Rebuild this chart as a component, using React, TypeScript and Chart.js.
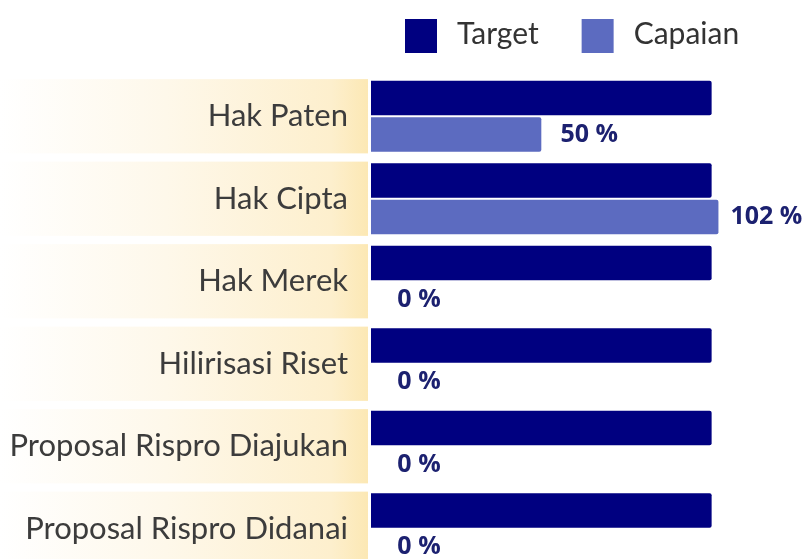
import React, { useEffect, useRef } from "react";
import { Chart, registerables } from "chart.js";

Chart.register(...registerables);

const categories = [
  "Hak Paten",
  "Hak Cipta",
  "Hak Merek",
  "Hilirisasi Riset",
  "Proposal Rispro Diajukan",
  "Proposal Rispro Didanai",
];
const seriesNames = ["Target", "Capaian"];
const targetValues = [100, 100, 100, 100, 100, 100];
const capaianValues = [50, 102, 0, 0, 0, 0];
const seriesColors = ["#000080", "#5C6BC0"];

const LABEL_FONT = "Lato, 'Open Sans', sans-serif";

const bandPlugin = {
  id: "bands",
  beforeDraw(chart: any) {
    const { ctx } = chart;
    const y = chart.scales.y;
    const n = chart.data.labels.length;
    const pitch = (chart.chartArea.bottom - chart.chartArea.top) / n;
    const right = chart.chartArea.left - 3;
    const grad = ctx.createLinearGradient(0, 0, right, 0);
    grad.addColorStop(0, "rgba(255,255,255,1)");
    grad.addColorStop(0.45, "#fef8ea");
    grad.addColorStop(0.9, "#fdefcd");
    grad.addColorStop(1, "#fce8b4");
    ctx.save();
    ctx.fillStyle = grad;
    for (let i = 0; i < n; i++) {
      const cy = y.getPixelForValue(i);
      const h = pitch * 0.9;
      ctx.fillRect(0, cy - h / 2, right, h);
    }
    ctx.restore();
  },
};

const valueLabelPlugin = {
  id: "valueLabels",
  afterDatasetsDraw(chart: any) {
    const { ctx } = chart;
    const meta = chart.getDatasetMeta(1);
    ctx.save();
    ctx.font = "bold 25px 'Open Sans', sans-serif";
    ctx.fillStyle = "#1c2170";
    ctx.textAlign = "center";
    ctx.textBaseline = "middle";
    meta.data.forEach((el: any, i: number) => {
      const v = chart.data.datasets[1].data[i];
      ctx.fillText(`${v} %`, el.x + 48, el.y);
    });
    ctx.restore();
  },
};

const legendPlugin = {
  id: "customLegend",
  afterDraw(chart: any) {
    const { ctx } = chart;
    ctx.save();
    ctx.font = `30px ${LABEL_FONT}`;
    ctx.textBaseline = "middle";
    ctx.textAlign = "left";
    let x = 405;
    const boxW = 32;
    const boxH = 34;
    const top = 19;
    chart.data.datasets.forEach((ds: any) => {
      ctx.fillStyle = ds.backgroundColor;
      ctx.fillRect(x, top, boxW, boxH);
      ctx.fillStyle = "#333333";
      const tx = x + boxW + 20;
      ctx.fillText(ds.label, tx, top + boxH / 2 - 2);
      x = tx + ctx.measureText(ds.label).width + 43;
    });
    ctx.restore();
  },
};

export default function App() {
  const ref = useRef<HTMLCanvasElement | null>(null);

  useEffect(() => {
    document.body.style.margin = "0";
    const canvas = ref.current;
    if (!canvas) return;
    const chart = new Chart(canvas, {
      type: "bar",
      data: {
        labels: categories,
        datasets: [
          {
            label: seriesNames[0],
            data: targetValues,
            backgroundColor: seriesColors[0],
            borderRadius: 2,
            categoryPercentage: 0.88,
            barPercentage: 0.95,
          },
          {
            label: seriesNames[1],
            data: capaianValues,
            backgroundColor: seriesColors[1],
            borderRadius: 2,
            categoryPercentage: 0.88,
            barPercentage: 0.95,
          },
        ],
      },
      options: {
        indexAxis: "y",
        animation: false,
        responsive: false,
        maintainAspectRatio: false,
        devicePixelRatio: 1,
        layout: { padding: { top: 75, left: 0, right: 0, bottom: 0 } },
        plugins: {
          legend: { display: false },
          tooltip: { enabled: false },
        },
        scales: {
          x: {
            display: false,
            min: 0,
            max: 128,
          },
          y: {
            grid: { display: false, drawTicks: false },
            border: { display: false },
            ticks: {
              font: { family: LABEL_FONT, size: 31 },
              color: "#3c3c3c",
              padding: 23,
              autoSkip: false,
            },
            afterFit: (scale: any) => {
              scale.width = 371;
              scale.paddingTop = 0;
              scale.paddingBottom = 0;
            },
          },
        },
      },
      plugins: [bandPlugin, valueLabelPlugin, legendPlugin],
    });
    return () => chart.destroy();
  }, []);

  return (
    <div style={{ width: 807, height: 559, overflow: "hidden", position: "relative" }}>
      <canvas ref={ref} width={807} height={570} style={{ display: "block" }} />
    </div>
  );
}
